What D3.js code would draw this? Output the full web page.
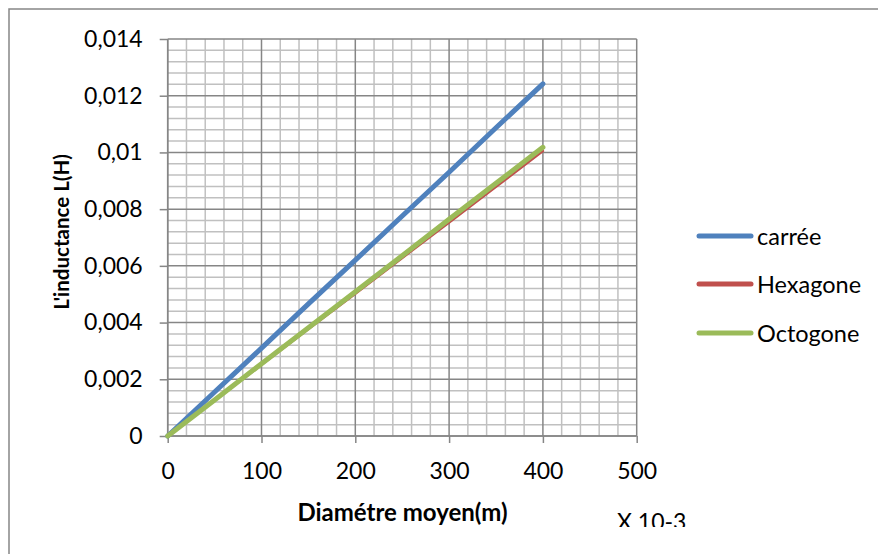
<!DOCTYPE html>
<html><head><meta charset="utf-8">
<script src="https://cdn.jsdelivr.net/npm/d3@7"></script>
<style>body{margin:0;background:#fff}svg{display:block}text{font-family:Lato,"Open Sans",sans-serif}</style>
</head><body>
<script>
const diameters = [0, 50, 100, 150, 200, 250, 300, 350, 400];
const carree   = [0, 0.00155, 0.0031, 0.00466, 0.0062, 0.00776, 0.0093, 0.01087, 0.01242];
const hexagone = [0, 0.00126, 0.00251, 0.00377, 0.00502, 0.00628, 0.00753, 0.00879, 0.01005];
const octogone = [0, 0.00127, 0.00255, 0.00382, 0.00509, 0.00636, 0.00764, 0.00891, 0.01018];
const seriesNames = ["carrée", "Hexagone", "Octogone"];
const xTicks = [0, 100, 200, 300, 400, 500];
const yTicks = [0, 0.002, 0.004, 0.006, 0.008, 0.01, 0.012, 0.014];
const yTickLabels = ["0", "0,002", "0,004", "0,006", "0,008", "0,01", "0,012", "0,014"];

const W = 878, H = 554;
const svg = d3.select("body").append("svg").attr("width", W).attr("height", H);
svg.append("rect").attr("x", 9).attr("y", 9).attr("width", 880).attr("height", 560)
  .attr("fill", "#fff").attr("stroke", "#868686").attr("stroke-width", 1.5);

const x = d3.scaleLinear().domain([0, 500]).range([167.7, 636.7]);
const y = d3.scaleLinear().domain([0, 0.014]).range([436, 39]);

// minor grid
const g = svg.append("g");
d3.range(0, 501, 20).filter(v => v % 100 !== 0).forEach(v => {
  g.append("line").attr("x1", x(v)).attr("x2", x(v)).attr("y1", y(0)).attr("y2", y(0.014))
   .attr("stroke", "#c0c0c0").attr("stroke-width", 1.5);
});
d3.range(0, 36).map(i => i * 0.0004).filter((v, i) => i % 5 !== 0).forEach(v => {
  g.append("line").attr("x1", x(0)).attr("x2", x(500)).attr("y1", y(v)).attr("y2", y(v))
   .attr("stroke", "#c0c0c0").attr("stroke-width", 1.5);
});
// major grid
xTicks.forEach(v => {
  g.append("line").attr("x1", x(v)).attr("x2", x(v)).attr("y1", y(0)).attr("y2", y(0.014))
   .attr("stroke", "#868686").attr("stroke-width", 1.5);
});
yTicks.forEach(v => {
  g.append("line").attr("x1", x(0)).attr("x2", x(500)).attr("y1", y(v)).attr("y2", y(v))
   .attr("stroke", "#868686").attr("stroke-width", 1.5);
});

// axes
const xAxis = d3.axisBottom(x).tickValues(xTicks).tickSize(7).tickPadding(20).tickFormat(d3.format("d"));
const yAxis = d3.axisLeft(y).tickValues(yTicks).tickSize(8).tickPadding(17).tickFormat((d, i) => yTickLabels[i]);
const gx = svg.append("g").attr("transform", `translate(0,${y(0)})`).call(xAxis);
const gy = svg.append("g").attr("transform", `translate(${x(0)},0)`).call(yAxis);
[gx, gy].forEach(a => {
  a.select(".domain").attr("stroke", "#868686").attr("stroke-width", 1.5);
  a.selectAll(".tick line").attr("stroke", "#868686").attr("stroke-width", 1.5);
  a.selectAll("text").attr("font-size", 23).attr("fill", "#000").attr("font-family", "Lato");
});
gx.select(".domain").attr("d", `M${x(0)},0H${x(500)}`);
gy.select(".domain").attr("d", `M0,${y(0)}V${y(0.014)}`);

// lines
const colors = ["#4F81BD", "#C0504D", "#9BBB59"];
const widths = [5, 2.5, 5];
const data = [carree, hexagone, octogone];
const line = d3.line().x((d, i) => x(diameters[i])).y(d => y(d));
data.forEach((s, k) => {
  svg.append("path").datum(s).attr("d", line).attr("fill", "none")
    .attr("stroke", colors[k]).attr("stroke-width", widths[k]).attr("stroke-linecap", "round");
});

// legend
const ly = [236, 284, 333];
seriesNames.forEach((n, k) => {
  svg.append("line").attr("x1", 699).attr("x2", 751).attr("y1", ly[k]).attr("y2", ly[k])
    .attr("stroke", colors[k]).attr("stroke-width", 5).attr("stroke-linecap", "round");
  svg.append("text").attr("x", 757).attr("y", ly[k] + 8.5).attr("font-size", 23.5).text(n);
});

// titles
svg.append("text").attr("x", 402.5).attr("y", 521).attr("text-anchor", "middle")
  .attr("font-size", 24).attr("font-weight", "bold").text("Diamétre moyen(m)");
svg.append("text").attr("transform", "translate(69,232) rotate(-90)").attr("text-anchor", "middle")
  .attr("font-size", 20.5).attr("font-weight", "bold").text("L'inductance L(H)");
svg.append("clipPath").attr("id", "clipx").append("rect").attr("x", 600).attr("y", 490).attr("width", 200).attr("height", 37);
svg.append("text").attr("x", 617).attr("y", 530).attr("font-size", 23).attr("clip-path", "url(#clipx)").text("X 10-3");
</script>
</body></html>
